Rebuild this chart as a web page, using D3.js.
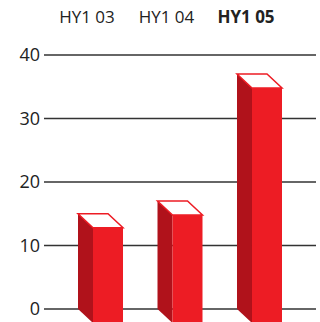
<!DOCTYPE html>
<html>
<head>
<meta charset="utf-8">
<script src="https://cdn.jsdelivr.net/npm/d3@7"></script>
<style>
html,body{margin:0;padding:0;background:#fff;}
svg{display:block;}
text{font-family:"Open Sans","Noto Sans",sans-serif;fill:#222;}
</style>
</head>
<body>
<svg id="chart" width="320" height="322"></svg>
<script>
const categories = ["HY1 03", "HY1 04", "HY1 05"];
const values = [15, 17, 37];
const boldCategory = "HY1 05";
const yTicks = [0, 10, 20, 30, 40];

const W = 320, H = 322;
const svg = d3.select("#chart");

const y = d3.scaleLinear().domain([0, 40]).range([309, 55]);
const x = d3.scaleBand().domain(categories).range([78, 267]).paddingInner(0.6226).paddingOuter(0);
const depthX = 15, depthY = 14;

// gridlines
svg.append("g").selectAll("line").data(yTicks).join("line")
  .attr("x1", 44).attr("x2", 316)
  .attr("y1", d => y(d)).attr("y2", d => y(d))
  .attr("stroke", "#333").attr("stroke-width", 1.5);

// y labels
svg.append("g").selectAll("text").data(yTicks).join("text")
  .attr("x", 40).attr("y", d => y(d)).attr("dy", "0.36em")
  .attr("text-anchor", "end").style("font-size", "18px")
  .text(d => d);

// header labels
svg.append("g").selectAll("text").data(categories).join("text")
  .attr("x", d => x(d) + x.bandwidth() / 2 - 6)
  .attr("y", 23)
  .attr("text-anchor", "middle")
  .style("font-size", "17px")
  .style("font-weight", d => d === boldCategory ? "bold" : "normal")
  .text(d => d);

// 3D bars
const bars = svg.append("g").selectAll("g").data(categories.map((c, i) => ({c, v: values[i]}))).join("g");
const bw = x.bandwidth();
// side face
bars.append("path")
  .attr("fill", "#B0121B")
  .attr("d", d => {
    const x0 = x(d.c), yt = y(d.v), yb = y(0);
    return `M${x0},${yt}L${x0 + depthX},${yt + depthY}L${x0 + depthX},${yb + depthY}L${x0},${yb}Z`;
  });
// front face
bars.append("rect")
  .attr("fill", "#ED1C24")
  .attr("x", d => x(d.c) + depthX)
  .attr("y", d => y(d.v) + depthY)
  .attr("width", bw)
  .attr("height", d => y(0) - y(d.v) + 2);
// top face
bars.append("path")
  .attr("fill", "#fff")
  .attr("stroke", "#ED1C24")
  .attr("stroke-width", 1.5)
  .attr("stroke-linejoin", "miter")
  .attr("d", d => {
    const x0 = x(d.c), yt = y(d.v);
    return `M${x0},${yt}L${x0 + bw},${yt}L${x0 + bw + depthX},${yt + depthY}L${x0 + depthX},${yt + depthY}Z`;
  });
</script>
</body>
</html>
